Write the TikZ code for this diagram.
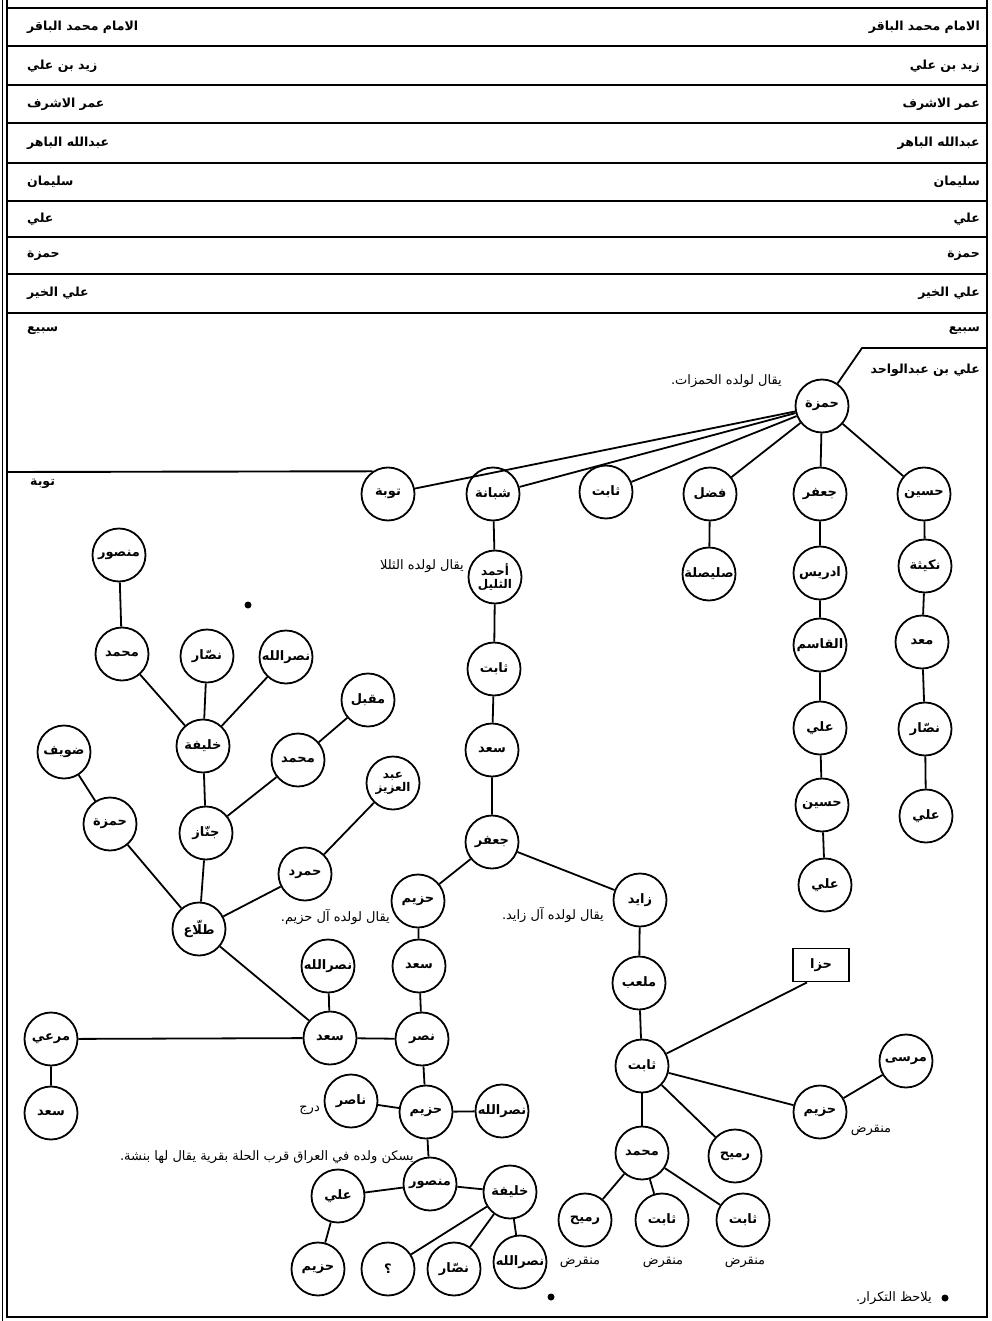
\documentclass[tikz,border=0pt]{standalone}
\usepackage{fontspec}
\newfontfamily\arabicfont[Script=Arabic]{DejaVu Sans}
\TeXXeTstate=1
\usetikzlibrary{positioning}
\newcommand{\AR}[1]{\beginR#1\endR}

\begin{document}
\begin{tikzpicture}[
    x=1pt, y=-1pt,
    person/.style={circle, draw, line width=1.8pt, minimum size=53pt, inner sep=0pt,
                   font=\arabicfont\bfseries\fontsize{13}{15}\selectfont, align=center},
    twoline/.style={font=\arabicfont\bfseries\fontsize{12}{13}\selectfont},
    tag/.style={rectangle, draw, line width=1.8pt, minimum width=56pt,
                minimum height=33pt, font=\arabicfont\bfseries\fontsize{13}{15}\selectfont},
    hdr/.style={font=\arabicfont\bfseries\fontsize{12.5}{15}\selectfont, inner sep=0pt},
    note/.style={font=\arabicfont\fontsize{13}{15}\selectfont, inner sep=0pt},
    link/.style={line width=1.8pt},
    rule/.style={line width=1.9pt},
    spot/.style={circle, fill, inner sep=0pt, minimum size=7pt}
]
    \useasboundingbox (0,0) rectangle (992,1321);

    \draw[rule] (7,0) -- (7,1317) -- (987,1317) -- (987,0);
    \draw[line width=0.8pt] (2.5,0) -- (2.5,1321);
    \draw[rule] (7,8) -- (987,8)  (7,46) -- (987,46)  (7,85) -- (987,85)
                (7,123) -- (987,123)  (7,163) -- (987,163)  (7,201) -- (987,201)
                (7,237) -- (987,237)  (7,274) -- (987,274)  (7,313) -- (987,313);

    \node[hdr, anchor=east] (r1) at (980,27)  {\AR{الامام محمد الباقر}};
    \node[hdr, anchor=east] (r2) at (980,66)  {\AR{زيد بن علي}};
    \node[hdr, anchor=east] (r3) at (980,104) {\AR{عمر الاشرف}};
    \node[hdr, anchor=east] (r4) at (980,143) {\AR{عبدالله الباهر}};
    \node[hdr, anchor=east] (r5) at (980,182) {\AR{سليمان}};
    \node[hdr, anchor=east] (r6) at (980,219) {\AR{علي}};
    \node[hdr, anchor=east] (r7) at (980,256) {\AR{حمزة}};
    \node[hdr, anchor=east] (r8) at (980,293) {\AR{علي الخير}};
    \node[hdr, anchor=east] (r9) at (980,331) {\AR{سبيع}};
    \node[hdr, anchor=east] (r10) at (980,370) {\AR{علي بن عبدالواحد}};

    \node[hdr, anchor=west] (l1) at (27,27)  {\AR{الامام محمد الباقر}};
    \node[hdr, anchor=west] (l2) at (27,66)  {\AR{زيد بن علي}};
    \node[hdr, anchor=west] (l3) at (27,104) {\AR{عمر الاشرف}};
    \node[hdr, anchor=west] (l4) at (27,143) {\AR{عبدالله الباهر}};
    \node[hdr, anchor=west] (l5) at (27,182) {\AR{سليمان}};
    \node[hdr, anchor=west] (l6) at (27,219) {\AR{علي}};
    \node[hdr, anchor=west] (l7) at (27,256) {\AR{حمزة}};
    \node[hdr, anchor=west] (l8) at (27,293) {\AR{علي الخير}};
    \node[hdr, anchor=west] (l9) at (27,331) {\AR{سبيع}};
    \node[hdr, anchor=west] (l10) at (30,484) {\AR{توبة}};

    \coordinate (rbend) at (862,348);
    \coordinate (redge) at (987,348);
    \coordinate (ledge) at (7,472);

    \node[person] (hamzaA)  at (822,406) {\AR{حمزة}};
    \node[person] (tawba)   at (388,494) {\AR{توبة}};
    \node[person] (shabana) at (493,494) {\AR{شبانة}};
    \node[person] (thabitA) at (606,492) {\AR{ثابت}};
    \node[person] (fadl)    at (710,494) {\AR{فضل}};
    \node[person] (jaafarA) at (820,494) {\AR{جعفر}};
    \node[person] (husaynA) at (924,494) {\AR{حسين}};

    \node[person] (sulaysila) at (709,574) {\AR{صليصلة}};
    \node[person] (idris)   at (820,573) {\AR{ادريس}};
    \node[person] (qasim)   at (820,645) {\AR{القاسم}};
    \node[person] (aliA)    at (820,728) {\AR{علي}};
    \node[person] (husaynB) at (822,805) {\AR{حسين}};
    \node[person] (aliB)    at (825,885) {\AR{علي}};
    \node[person] (nukaytha) at (925,566) {\AR{نكيثة}};
    \node[person] (maad)    at (922,642) {\AR{معد}};
    \node[person] (nassarA) at (925,729) {\AR{نصّار}};
    \node[person] (aliC)    at (926,816) {\AR{علي}};

    \node[person, twoline] (ahmad) at (495,577) {\AR{أحمد}\\\AR{الثليل}};
    \node[person] (thabitB) at (494,669) {\AR{ثابت}};
    \node[person] (saadA)   at (492,750) {\AR{سعد}};
    \node[person] (jaafarB) at (492,842) {\AR{جعفر}};
    \node[person] (hazimA)  at (418,901) {\AR{حزيم}};
    \node[person] (zayid)   at (640,900) {\AR{زايد}};
    \node[person] (mulaab)  at (639,983) {\AR{ملعب}};
    \node[person] (thabitC) at (642,1066) {\AR{ثابت}};
    \node[tag]    (hiza)    at (821,965) {\AR{حزا}};
    \node[person] (mursa)   at (906,1061) {\AR{مرسى}};
    \node[person] (hazimB)  at (820,1112) {\AR{حزيم}};
    \node[person] (rumayhA) at (735,1156) {\AR{رميح}};
    \node[person] (muhammadA) at (642,1153) {\AR{محمد}};
    \node[person] (rumayhB) at (585,1220) {\AR{رميح}};
    \node[person] (thabitD) at (662,1220) {\AR{ثابت}};
    \node[person] (thabitE) at (743,1220) {\AR{ثابت}};

    \node[person] (saadB)   at (419,966)  {\AR{سعد}};
    \node[person] (nasr)    at (422,1039) {\AR{نصر}};
    \node[person] (hazimC)  at (426,1112) {\AR{حزيم}};
    \node[person] (nasir)   at (351,1101) {\AR{ناصر}};
    \node[person] (nasrallahA) at (502,1111) {\AR{نصرالله}};
    \node[person] (mansurA) at (430,1184) {\AR{منصور}};
    \node[person] (aliD)    at (338,1196) {\AR{علي}};
    \node[person] (hazimD)  at (318,1269) {\AR{حزيم}};
    \node[person] (khalifaA) at (510,1192) {\AR{خليفة}};
    \node[person] (query)   at (388,1269) {\AR{؟}};
    \node[person] (nassarB) at (454,1269) {\AR{نصّار}};
    \node[person] (nasrallahB) at (520,1262) {\AR{نصرالله}};

    \node[person] (saadC)   at (330,1038) {\AR{سعد}};
    \node[person] (nasrallahC) at (328,966) {\AR{نصرالله}};
    \node[person] (murai)   at (51,1039)  {\AR{مرعي}};
    \node[person] (saadD)   at (51,1113)  {\AR{سعد}};

    \node[person] (talla)   at (199,929) {\AR{طلّاع}};
    \node[person] (jannaz)  at (206,833) {\AR{جنّاز}};
    \node[person] (hamzaB)  at (110,824) {\AR{حمزة}};
    \node[person] (duwayf)  at (64,752)  {\AR{ضويف}};
    \node[person] (hamrad)  at (305,874) {\AR{حمرد}};
    \node[person, twoline] (abdalaziz) at (393,783) {\AR{عبد}\\\AR{العزيز}};
    \node[person] (muhammadB) at (298,760) {\AR{محمد}};
    \node[person] (muqbil)  at (368,700) {\AR{مقبل}};
    \node[person] (khalifaB) at (203,746) {\AR{خليفة}};
    \node[person] (muhammadC) at (122,654) {\AR{محمد}};
    \node[person] (nassarC) at (207,656) {\AR{نصّار}};
    \node[person] (nasrallahD) at (286,657) {\AR{نصرالله}};
    \node[person] (mansurB) at (119,555) {\AR{منصور}};

    \node[note, anchor=east] (n1) at (782,381)  {\AR{يقال لولده الحمزات.}};
    \node[note, anchor=east] (n2) at (464,566)  {\AR{يقال لولده الثللا}};
    \node[note, anchor=east] (n3) at (390,917)  {\AR{يقال لولده آل حزيم.}};
    \node[note, anchor=east] (n4) at (604,915)  {\AR{يقال لولده آل زايد.}};
    \node[note, anchor=east] (n5) at (320,1110) {\AR{درج}};
    \node[note, anchor=east] (n6) at (414,1157) {\AR{يسكن ولده في العراق قرب الحلة بقرية يقال لها بنشة.}};
    \node[note] (n7) at (871,1130) {\AR{منقرض}};
    \node[note] (n8) at (580,1262) {\AR{منقرض}};
    \node[note] (n9) at (663,1262) {\AR{منقرض}};
    \node[note] (n10) at (745,1262) {\AR{منقرض}};
    \node[note, anchor=east] (n11) at (932,1298) {\AR{يلاحظ التكرار.}};

    \node[spot] (s1) at (248,605)  {};
    \node[spot] (s2) at (551,1297) {};
    \node[spot] (s3) at (945,1298) {};

    \draw[link] (hamzaA) -- (tawba);
    \draw[link] (hamzaA) -- (shabana);
    \draw[link] (hamzaA) -- (thabitA);
    \draw[link] (hamzaA) -- (fadl);
    \draw[link] (hamzaA) -- (jaafarA);
    \draw[link] (hamzaA) -- (husaynA);
    \draw[link] (hamzaA) -- (rbend) -- (redge);
    \draw[rule] (ledge) -- (tawba.124);

    \draw[link] (fadl) -- (sulaysila);
    \draw[link] (jaafarA) -- (idris) -- (qasim) -- (aliA) -- (husaynB) -- (aliB);
    \draw[link] (husaynA) -- (nukaytha) -- (maad) -- (nassarA) -- (aliC);
    \draw[link] (shabana) -- (ahmad) -- (thabitB) -- (saadA) -- (jaafarB);
    \draw[link] (jaafarB) -- (hazimA);
    \draw[link] (jaafarB) -- (zayid) -- (mulaab) -- (thabitC);
    \draw[link] (thabitC) -- ([xshift=-14pt]hiza.south);
    \draw[link] (thabitC) -- (hazimB) -- (mursa);
    \draw[link] (thabitC) -- (rumayhA);
    \draw[link] (thabitC) -- (muhammadA);
    \draw[link] (muhammadA) -- (rumayhB);
    \draw[link] (muhammadA) -- (thabitD);
    \draw[link] (muhammadA) -- (thabitE);

    \draw[link] (hazimA) -- (saadB) -- (nasr) -- (hazimC) -- (mansurA);
    \draw[link] (hazimC) -- (nasir);
    \draw[link] (hazimC) -- (nasrallahA);
    \draw[link] (mansurA) -- (aliD) -- (hazimD);
    \draw[link] (mansurA) -- (khalifaA);
    \draw[link] (khalifaA) -- (query);
    \draw[link] (khalifaA) -- (nassarB);
    \draw[link] (khalifaA) -- (nasrallahB);
    \draw[link] (nasr) -- (saadC) -- (murai) -- (saadD);
    \draw[link] (saadC) -- (nasrallahC);
    \draw[link] (saadC) -- (talla);

    \draw[link] (talla) -- (jannaz) -- (khalifaB);
    \draw[link] (talla) -- (hamzaB) -- (duwayf);
    \draw[link] (talla) -- (hamrad) -- (abdalaziz);
    \draw[link] (jannaz) -- (muhammadB) -- (muqbil);
    \draw[link] (khalifaB) -- (muhammadC) -- (mansurB);
    \draw[link] (khalifaB) -- (nassarC);
    \draw[link] (khalifaB) -- (nasrallahD);
\end{tikzpicture}
\end{document}
